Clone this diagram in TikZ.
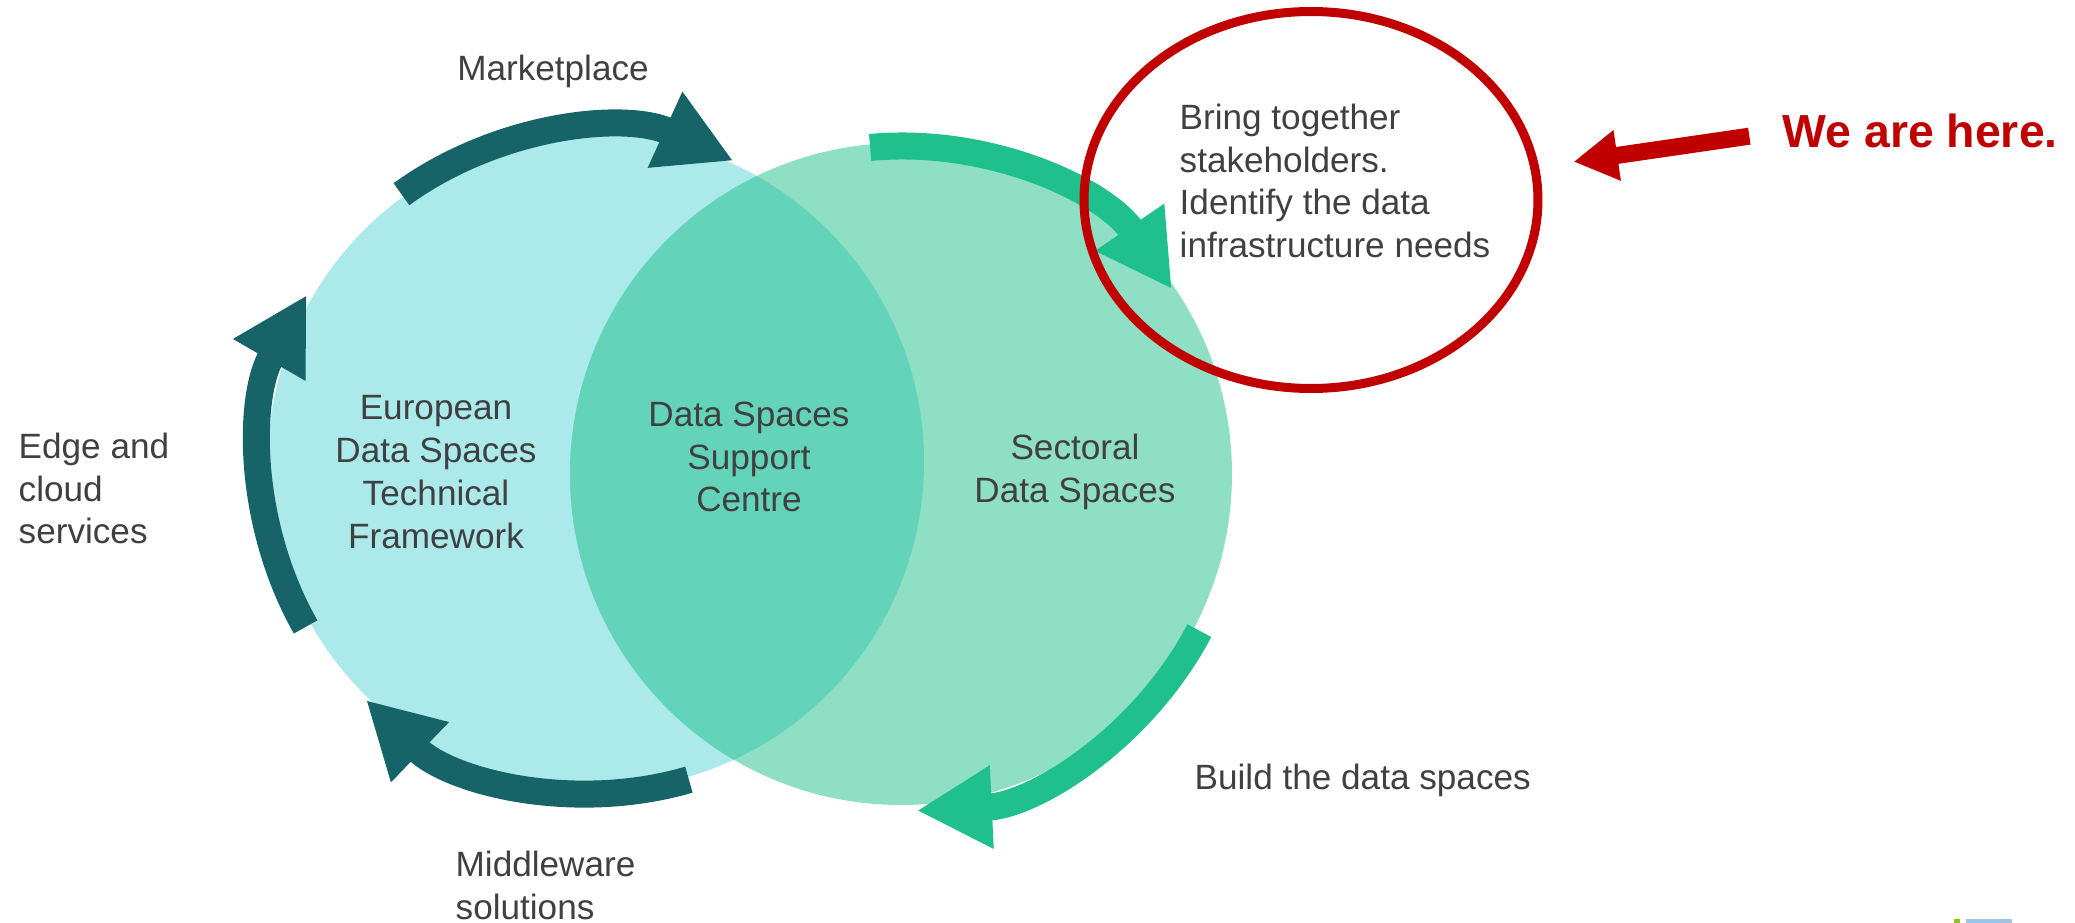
\documentclass[tikz,border=0pt]{standalone}
\usepackage{fontspec}
\setmainfont{Liberation Sans}
\usetikzlibrary{arrows.meta,shapes.geometric}
\definecolor{cyanl}{HTML}{ABE9EB}
\definecolor{greenl}{HTML}{8EDFC4}
\definecolor{midc}{HTML}{63D4BA}
\definecolor{tealc}{HTML}{176468}
\definecolor{greenc}{HTML}{1FC08B}
\definecolor{redc}{HTML}{C00000}
\definecolor{greyc}{HTML}{404040}
\definecolor{markg}{HTML}{8DC21F}
\definecolor{markb}{HTML}{9DC3E6}

\begin{document}
\begin{tikzpicture}[x=0.1mm,y=-0.1mm]
  \tikzstyle{darr}=[draw=tealc,line width=2.7mm,-{Triangle[length=7.5mm,width=7.8mm]}]
  \tikzstyle{garr}=[draw=greenc,line width=2.7mm,-{Triangle[length=7.5mm,width=7.8mm]}]
  \tikzstyle{rarr}=[draw=redc,line width=1.7mm,-{Triangle[length=4.4mm,width=4.8mm]},shorten <=3.3mm,shorten >=3.5mm]
  \tikzstyle{lbl}=[text=greyc,inner sep=0,font=\fontsize{10pt}{12.2pt}\selectfont]
  \useasboundingbox (0,0) rectangle (2075,923);
  \coordinate (lc) at (596,462);
  \coordinate (rc) at (901,474);
  \fill[cyanl] (lc) circle[radius=328];
  \fill[greenl] (rc) circle[radius=331];
  \begin{scope}
    \clip (lc) circle[radius=328];
    \fill[midc] (rc) circle[radius=331];
  \end{scope}
  \draw[darr] ([shift={(234:331)}]lc) arc[start angle=234,end angle=294.5,radius=331];
  \draw[darr] ([shift={(150.4:334)}]lc) arc[start angle=150.4,end angle=210,radius=334];
  \draw[darr] ([shift={(73.7:331)}]lc) arc[start angle=73.7,end angle=134,radius=331];
  \draw[garr] ([shift={(264.6:328)}]rc) arc[start angle=264.6,end angle=325.7,radius=328];
  \draw[garr] ([shift={(27.7:337)}]rc) arc[start angle=27.7,end angle=87.3,radius=337];
  \node (mkt) [lbl,anchor=base] at (553,81) {Marketplace};
  \node (edge) [lbl,anchor=north west,align=left] at (18,432) {Edge and\\cloud\\services};
  \node (eur) [lbl,anchor=north,align=center] at (436,395) {European\\Data Spaces\\Technical\\Framework};
  \node (dssc) [lbl,anchor=north,align=center] at (749,401) {Data Spaces\\Support\\Centre};
  \node (sect) [lbl,anchor=north,align=center] at (1075,433) {Sectoral\\Data Spaces};
  \node (bring) [lbl,anchor=north west,align=left] at (1179,103) {Bring together\\stakeholders.\\Identify the data\\infrastructure needs};
  \node (build) [lbl,anchor=base west] at (1194,790) {Build the data spaces};
  \node (mid) [lbl,anchor=north west,align=left] at (455,850) {Middleware\\solutions};
  \node (ell) [draw=redc,line width=0.9mm,ellipse,minimum width=45.4mm,minimum height=37.7mm,inner sep=0] at (1311,200) {};
  \node (here) [anchor=base west,inner sep=0,text=redc,font=\fontsize{13.2pt}{16pt}\selectfont\bfseries] at (1782,148) {We are here.};
  \draw[rarr] (here.west) -- (ell);
  \fill[markg] (1954,919) rectangle (1960,923);
  \fill[markb] (1966,919) rectangle (2012,923);
\end{tikzpicture}
\end{document}
